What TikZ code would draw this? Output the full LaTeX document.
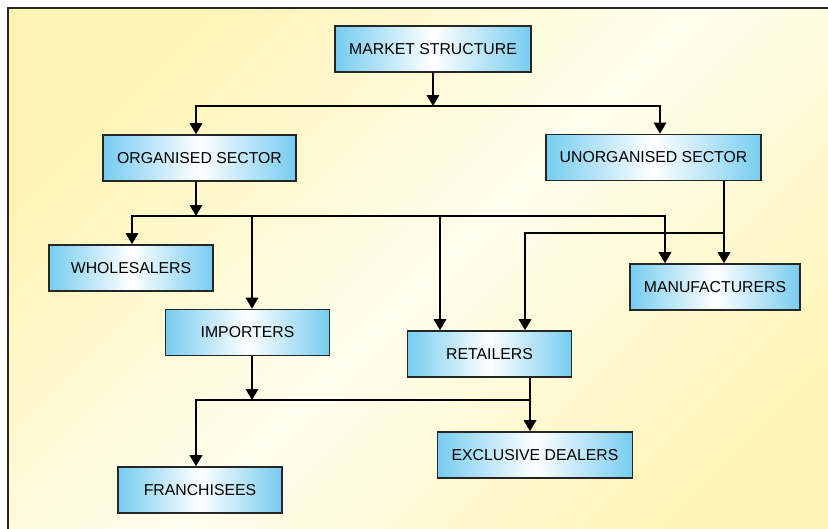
\documentclass[tikz,border=0pt]{standalone}
\usepackage{fontspec}
\setmainfont{Liberation Sans}
\usetikzlibrary{arrows.meta}

\definecolor{boxblue}{RGB}{118,204,240}
\definecolor{bgyellow}{RGB}{255,244,182}
\definecolor{bgpale}{RGB}{255,254,238}

\begin{document}
\begin{tikzpicture}[x=1pt,y=-1pt,
  box/.style={draw=black!85, line width=1.6pt, left color=boxblue, right color=boxblue,
    middle color=white, minimum width=164pt, minimum height=46pt, inner xsep=14pt,
    font=\fontsize{15.8}{18}\selectfont},
  arr/.style={-{Triangle[width=12.5pt,length=11pt]}, line width=1.8pt}]

\useasboundingbox (0,0) rectangle (828,528);
\fill[white] (0,0) rectangle (828,528);

% background panel
\path[left color=bgyellow, right color=bgyellow, middle color=bgpale, shading angle=45]
  (8,8) rectangle (850,550);
\draw[line width=1.5pt, black!85] (850,8) -- (8,8) -- (8,550);

\node[box] (market) at (433,49) {MARKET STRUCTURE};
\node[box] (organised) at (199.5,158) {ORGANISED SECTOR};
\node[box] (unorganised) at (653.5,157.5) {UNORGANISED SECTOR};
\node[box] (wholesalers) at (131,268) {WHOLESALERS};
\node[box] (manufacturers) at (715,287) {MANUFACTURERS};
\node[box] (importers) at (247.5,332.5) {IMPORTERS};
\node[box] (retailers) at (489.5,354) {RETAILERS};
\node[box] (exclusive) at (535,455) {EXCLUSIVE DEALERS};
\node[box] (franchisees) at (200,490) {FRANCHISEES};

\coordinate (top) at (433,106);
\coordinate (mid) at (196,216);
\coordinate (unorg) at (724,233);
\coordinate (low) at (252,400);
\coordinate (low2) at (530,400);

\draw[arr] (market) -- (top);
\draw[arr] (top) -| (organised.north -| mid);
\draw[arr] (top) -| ([xshift=6.5pt]unorganised.north);

\draw[arr] (organised.south -| mid) -- (mid);
\draw[arr] (mid) -| ([xshift=1pt]wholesalers.north);
\draw[arr] (mid) -| (importers.north -| low);
\draw[arr] (mid) -| ([xshift=-49.5pt]retailers.north);
\draw[arr] (mid) -| ([xshift=-50pt]manufacturers.north);

\draw[arr] (unorganised.south -| unorg) -- (manufacturers.north -| unorg);
\draw[arr] (unorg) -| ([xshift=35.5pt]retailers.north);

\draw[arr] (importers.south -| low) -- (low);
\draw[arr] (retailers.south -| low2) -- (exclusive.north -| low2);
\draw[arr] (low2) -| (franchisees.north -| mid);

\end{tikzpicture}
\end{document}
